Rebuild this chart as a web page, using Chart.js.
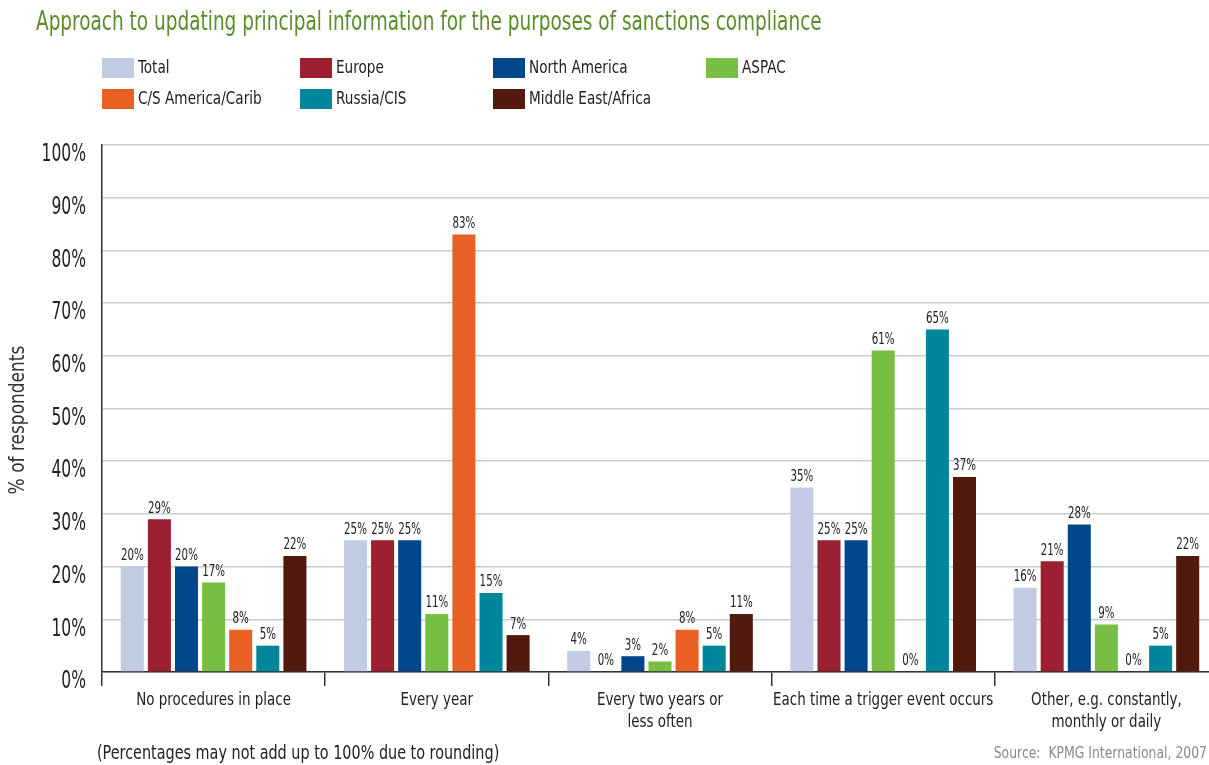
<!DOCTYPE html>
<html>
<head>
<meta charset="utf-8">
<script src="https://cdn.jsdelivr.net/npm/chart.js@4.4.0/dist/chart.umd.min.js"></script>
<style>
  html, body { margin: 0; padding: 0; background: #fff; overflow: hidden; }
  #chart { display: block; }
</style>
</head>
<body>
<canvas id="chart" width="1218" height="765"></canvas>
<script>
const FONT = "'Liberation Sans Narrow', 'DejaVu Sans Condensed', sans-serif";

const categories = [
  'No procedures in place',
  'Every year',
  ['Every two years or', 'less often'],
  'Each time a trigger event occurs',
  ['Other, e.g. constantly,', 'monthly or daily'],
];
const yTicks = [0, 10, 20, 30, 40, 50, 60, 70, 80, 90, 100];

const total = [20, 25, 4, 35, 16];
const europe = [29, 25, 0, 25, 21];
const northAmerica = [20, 25, 3, 25, 28];
const aspac = [17, 11, 2, 61, 9];
const csAmerica = [8, 83, 8, 0, 0];
const russia = [5, 15, 5, 65, 5];
const middleEast = [22, 7, 11, 37, 22];

const series = [
  { label: 'Total', data: total, color: '#c1cbe4' },
  { label: 'Europe', data: europe, color: '#9c1f32' },
  { label: 'North America', data: northAmerica, color: '#00468b' },
  { label: 'ASPAC', data: aspac, color: '#78be43' },
  { label: 'C/S America/Carib', data: csAmerica, color: '#e86123' },
  { label: 'Russia/CIS', data: russia, color: '#00869a' },
  { label: 'Middle East/Africa', data: middleEast, color: '#521a0c' },
];

// Legend grid: four columns, two rows
const legendCols = [102, 300, 493, 706];
const legendRows = [68, 99];

// Narrow text: squeeze horizontally around the anchor point
function drawText(ctx, text, x, y, size, squeeze, align = 'left', color = '#222') {
  ctx.save();
  ctx.translate(x, y);
  ctx.scale(squeeze, 1);
  ctx.font = `${size}px ${FONT}`;
  ctx.fillStyle = color;
  ctx.textAlign = align;
  ctx.fillText(text, 0, 0);
  ctx.restore();
}

const decorations = {
  id: 'decorations',
  afterDraw(chart) {
    const ctx = chart.ctx;
    const { x: xScale, y: yScale } = chart.scales;
    ctx.save();
    ctx.textBaseline = 'middle';

    drawText(ctx, 'Approach to updating principal information for the purposes of sanctions compliance',
      36, 23, 26, 0.79, 'left', '#5b8c2a');

    chart.data.datasets.forEach((ds, i) => {
      const x = legendCols[i % 4];
      const y = legendRows[Math.floor(i / 4)];
      ctx.fillStyle = ds.backgroundColor;
      ctx.fillRect(x, y - 10, 32, 20);
      drawText(ctx, ds.label, x + 36, y + 1, 17, 0.89);
    });

    // y axis title
    ctx.save();
    ctx.translate(19, 420);
    ctx.rotate(-Math.PI / 2);
    drawText(ctx, '% of respondents', 0, 0, 21, 0.9, 'center', '#333');
    ctx.restore();

    // y tick labels
    yTicks.forEach((v) => {
      drawText(ctx, `${v}%`, 86, yScale.getPixelForValue(v) + 10, 24, 0.72, 'right');
    });

    // category labels
    categories.forEach((label, i) => {
      const lines = Array.isArray(label) ? label : [label];
      const cx = xScale.getPixelForValue(i);
      lines.forEach((line, k) => {
        drawText(ctx, line, cx, 700 + k * 22, 18, 0.83, 'center');
      });
    });

    drawText(ctx, '(Percentages may not add up to 100% due to rounding)', 97, 754, 20, 0.8);
    drawText(ctx, 'Source:  KPMG International, 2007', 1207, 754, 15, 0.92, 'right', '#8a8a8a');

    // value labels above each bar
    ctx.textBaseline = 'bottom';
    chart.data.datasets.forEach((ds, i) => {
      chart.getDatasetMeta(i).data.forEach((bar, j) => {
        drawText(ctx, `${ds.data[j]}%`, bar.x, bar.y - 3, 15, 0.76, 'center');
      });
    });

    ctx.restore();
  },
};

new Chart(document.getElementById('chart').getContext('2d'), {
  type: 'bar',
  data: {
    labels: categories,
    datasets: series.map((s) => ({
      label: s.label,
      data: s.data,
      backgroundColor: s.color,
      borderWidth: 0,
      categoryPercentage: 0.85,
      barPercentage: 0.85,
    })),
  },
  options: {
    responsive: false,
    animation: false,
    layout: { padding: { top: 145, left: 0, right: 0, bottom: 0 } },
    plugins: {
      legend: { display: false },
      tooltip: { enabled: false },
    },
    scales: {
      x: {
        offset: true,
        afterFit: (scale) => { scale.height = 93; },
        grid: {
          offset: true,
          drawOnChartArea: false,
          drawTicks: true,
          tickLength: 14,
          color: '#333',
          lineWidth: 1.5,
        },
        border: { color: '#333', width: 1.5 },
        ticks: { display: false, autoSkip: false },
      },
      y: {
        min: 0,
        max: 100,
        afterFit: (scale) => { scale.width = 102; },
        afterBuildTicks: (scale) => { scale.ticks = yTicks.map((value) => ({ value })); },
        grid: { color: '#cccccc', lineWidth: 1.5, drawTicks: false },
        border: { color: '#333', width: 1.5 },
        ticks: { display: false },
      },
    },
  },
  plugins: [decorations],
});
</script>
</body>
</html>
